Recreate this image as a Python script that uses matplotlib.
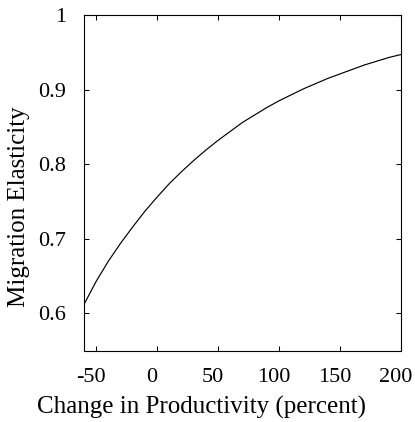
import matplotlib
matplotlib.use("Agg")
import matplotlib.pyplot as plt
import matplotlib.transforms as mtransforms

productivity_change = [-60, -50, -40, -30, -20, -10, 0, 10, 20, 30, 40, 50, 60, 70,
                       80, 90, 100, 110, 120, 130, 140, 150, 160, 170, 180, 190, 200]
migration_elasticity = [0.612, 0.643, 0.670, 0.694, 0.716, 0.737, 0.756, 0.774, 0.790,
                        0.805, 0.819, 0.832, 0.844, 0.856, 0.866, 0.876, 0.885, 0.893,
                        0.901, 0.908, 0.915, 0.921, 0.927, 0.933, 0.938, 0.943, 0.947]
x_ticks = [-50, 0, 50, 100, 150, 200]
y_ticks = [0.6, 0.7, 0.8, 0.9, 1.0]
y_tick_labels = ["0.6", "0.7", "0.8", "0.9", "1"]

plt.rcParams['font.family'] = ['Liberation Serif', 'DejaVu Serif']
fig = plt.figure(figsize=(4.15, 4.22), dpi=100)
ax = fig.add_axes([0.2024, 0.169, 0.7639, 0.7955])
ax.plot(productivity_change, migration_elasticity, color='black', linewidth=0.85)
ax.set_xlim(-60, 200)
ax.set_ylim(0.55, 1.0)
ax.set_xticks(x_ticks)
ax.set_xticklabels([str(t) for t in x_ticks])
ax.set_yticks(y_ticks)
ax.set_yticklabels(y_tick_labels)
ax.tick_params(direction='in', length=3.3, width=0.75, top=True, right=True,
               labelsize=16)
ax.tick_params(axis='x', pad=12.5)
ax.tick_params(axis='y', pad=13)
shift = mtransforms.ScaledTranslation(-5 / 100, 0, fig.dpi_scale_trans)
for lbl in ax.get_xticklabels():
    lbl.set_transform(lbl.get_transform() + shift)
for s in ax.spines.values():
    s.set_linewidth(0.8)
ax.set_xlabel("Change in Productivity (percent)", fontsize=18)
ax.set_ylabel("Migration Elasticity", fontsize=18)
ax.xaxis.set_label_coords(0.372, -0.136)
ax.yaxis.set_label_coords(-0.170, 0.428)
fig.savefig("out.png", dpi=100)
